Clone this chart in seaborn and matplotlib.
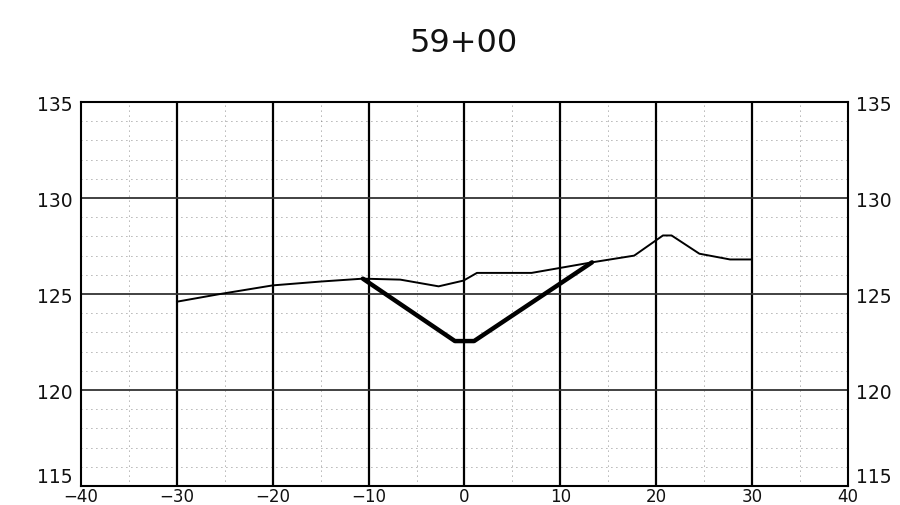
import seaborn as sns
import matplotlib.pyplot as plt
import numpy as np
import pandas as pd

# cross-section 59+00, offsets (ft) vs elevation (ft)
station = '59+00'

ground_offset = [-30.0, -25.5, -20.0, -15.0, -10.6, -6.7, -2.7, -0.1, 1.3, 7.0, 13.3, 17.7, 20.7, 21.6, 24.5, 27.7, 29.9]
ground_elev = [124.6, 125.0, 125.45, 125.65, 125.8, 125.75, 125.4, 125.7, 126.1, 126.1, 126.65, 127.0, 128.05, 128.05, 127.1, 126.8, 126.8]

design_offset = [-10.6, -1.0, 1.0, 13.3]
design_elev = [125.8, 122.55, 122.55, 126.65]

x_ticks = [-40, -30, -20, -10, 0, 10, 20, 30, 40]
y_ticks = [115, 120, 125, 130, 135]

ground = pd.DataFrame({'offset': ground_offset, 'elev': ground_elev})
design = pd.DataFrame({'offset': design_offset, 'elev': design_elev})

sns.set_style('white')
plt.rcParams['font.family'] = ['DejaVu Sans']

fig = plt.figure(figsize=(9, 5.06), dpi=100)
ax = fig.add_axes([0.09, 0.0375, 0.8522, 0.7589])

# minor dotted grid
for xv in np.arange(-35, 40, 10):
    ax.axvline(xv, color='#666666', lw=0.6, ls=(0, (1, 5)), zorder=1)
for yv in np.arange(116, 135, 1):
    if yv % 5:
        ax.axhline(yv, color='#666666', lw=0.6, ls=(0, (1, 5)), zorder=1)

# major solid grid
for xv in x_ticks[1:-1]:
    ax.axvline(xv, color='black', lw=1.6, zorder=2)
for yv in y_ticks[1:-1]:
    ax.axhline(yv, color='#333333', lw=1.3, zorder=2)

sns.lineplot(data=ground, x='offset', y='elev', sort=False, color='black',
             lw=1.4, ax=ax, zorder=3)
sns.lineplot(data=design, x='offset', y='elev', sort=False, color='black',
             lw=3.2, ax=ax, zorder=4)

ax.set_xlim(-40, 40)
ax.set_ylim(115, 135)
ax.set_xticks(x_ticks)
ax.set_yticks(y_ticks)
ax.set_xticklabels([str(v).replace('-', '\u2212') for v in x_ticks])
ax.set_xlabel('')
ax.set_ylabel('')
ax.tick_params(axis='both', length=0, labelsize=13.5, colors='#111111')
ax.tick_params(axis='x', pad=1, labelsize=12)
ax.tick_params(axis='y', pad=6, labelleft=True, labelright=True)

# bottom elevation label sits just above the corner, clear of the offset labels
fig.canvas.draw()
for tk in ax.yaxis.get_major_ticks()[:1]:
    tk.label1.set_va('bottom')
    tk.label2.set_va('bottom')

for s in ax.spines.values():
    s.set_color('black')
    s.set_linewidth(1.5)

fig.text(0.515, 0.915, station, ha='center', va='center', fontsize=23,
         color='#111111')

fig.savefig('out.png', dpi=100)
